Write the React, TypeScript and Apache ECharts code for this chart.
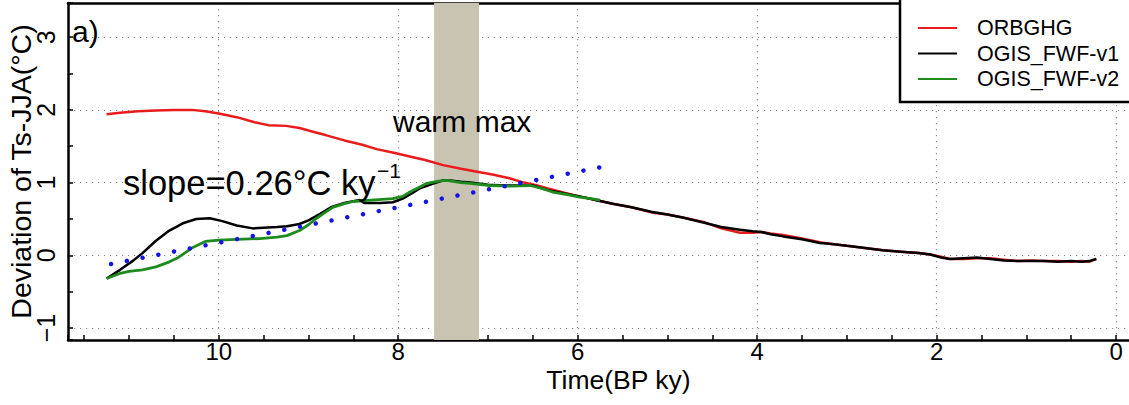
import React, { useEffect, useRef } from "react";
import * as echarts from "echarts";

const FONT = "'Liberation Sans', Arial, Helvetica, sans-serif";

// Time (ky BP), value (°C)
const orbghg: [number, number][] = [
  [11.25, 1.94], [11.1, 1.96], [10.9, 1.98], [10.7, 1.99], [10.5, 2.0], [10.3, 2.0],
  [10.15, 1.98], [10.0, 1.95], [9.8, 1.9], [9.6, 1.83], [9.45, 1.79], [9.25, 1.78],
  [9.1, 1.75], [8.95, 1.7], [8.8, 1.65], [8.6, 1.58], [8.4, 1.52], [8.24, 1.46],
  [8.05, 1.41], [7.87, 1.36], [7.7, 1.31], [7.5, 1.24], [7.3, 1.19], [7.12, 1.15],
  [6.95, 1.11], [6.76, 1.06], [6.6, 1.0], [6.45, 0.96], [6.3, 0.91], [6.15, 0.86],
  [5.98, 0.81], [5.8, 0.76], [5.61, 0.71], [5.4, 0.66], [5.18, 0.59], [5.0, 0.56],
  [4.83, 0.52], [4.6, 0.46], [4.4, 0.37], [4.19, 0.31], [4.05, 0.31], [3.95, 0.32],
  [3.85, 0.3], [3.71, 0.28], [3.5, 0.23], [3.3, 0.18], [3.19, 0.16], [3.0, 0.13],
  [2.8, 0.1], [2.6, 0.07], [2.4, 0.05], [2.2, 0.03], [2.07, 0.01], [1.95, -0.02],
  [1.85, -0.05], [1.7, -0.05], [1.55, -0.04], [1.4, -0.04], [1.25, -0.06], [1.1, -0.08],
  [0.95, -0.07], [0.8, -0.08], [0.65, -0.08], [0.5, -0.09], [0.38, -0.08], [0.3, -0.09],
  [0.22, -0.05],
];

const ogisV1: [number, number][] = [
  [11.25, -0.32], [11.1, -0.2], [10.95, -0.07], [10.85, 0.03], [10.7, 0.2], [10.55, 0.34],
  [10.4, 0.44], [10.25, 0.5], [10.1, 0.51], [9.96, 0.47], [9.8, 0.41], [9.62, 0.37],
  [9.5, 0.38], [9.35, 0.39], [9.24, 0.4], [9.1, 0.43], [9.0, 0.48], [8.87, 0.57],
  [8.75, 0.66], [8.6, 0.72], [8.43, 0.76], [8.38, 0.72], [8.2, 0.72], [8.06, 0.73],
  [7.95, 0.78], [7.85, 0.85], [7.76, 0.92], [7.6, 0.99], [7.5, 1.03], [7.42, 1.03],
  [7.3, 1.01], [7.2, 1.0], [7.0, 0.97], [6.8, 0.96], [6.64, 0.96], [6.5, 0.96],
  [6.34, 0.9], [6.15, 0.85], [5.98, 0.81], [5.8, 0.76], [5.61, 0.71], [5.4, 0.66],
  [5.18, 0.6], [5.0, 0.56], [4.83, 0.52], [4.6, 0.45], [4.4, 0.39], [4.19, 0.35],
  [4.05, 0.33], [3.95, 0.32], [3.85, 0.29], [3.71, 0.26], [3.5, 0.22], [3.3, 0.17],
  [3.19, 0.16], [3.0, 0.13], [2.8, 0.1], [2.6, 0.07], [2.4, 0.05], [2.2, 0.03],
  [2.07, 0.01], [1.95, -0.03], [1.85, -0.05], [1.7, -0.04], [1.55, -0.03], [1.4, -0.05],
  [1.25, -0.07], [1.1, -0.08], [0.95, -0.08], [0.8, -0.08], [0.65, -0.09], [0.5, -0.08],
  [0.38, -0.09], [0.3, -0.08], [0.22, -0.05],
];

const ogisV2: [number, number][] = [
  [11.25, -0.32], [11.1, -0.25], [11.0, -0.22], [10.85, -0.2], [10.7, -0.16], [10.55, -0.09],
  [10.45, -0.03], [10.3, 0.1], [10.15, 0.19], [10.0, 0.21], [9.8, 0.22], [9.54, 0.23],
  [9.35, 0.25], [9.24, 0.27], [9.1, 0.34], [9.0, 0.42], [8.91, 0.51], [8.8, 0.6],
  [8.73, 0.66], [8.6, 0.71], [8.5, 0.74], [8.3, 0.76], [8.06, 0.78], [7.95, 0.81],
  [7.87, 0.87], [7.76, 0.94], [7.68, 0.99], [7.55, 1.02], [7.46, 1.03], [7.3, 1.0],
  [7.2, 0.99], [6.98, 0.96], [6.75, 0.95], [6.53, 0.96], [6.4, 0.92], [6.28, 0.87],
  [6.1, 0.83], [5.98, 0.8], [5.85, 0.78], [5.75, 0.76],
];

const slopeTrend: [number, number][] = [[11.2, -0.12], [5.75, 1.21]];
const warmMaxBand: [number, number] = [7.6, 7.1];

const seriesNames = ["ORBGHG", "OGIS_FWF-v1", "OGIS_FWF-v2"];
const seriesColors = ["#e81c1c", "#000000", "#1d8c1d"];

const X_MIN = -0.59;
const X_MAX = 11.68;

const fmtNum = (v: number) => {
  if (Math.abs(v - Math.round(v)) > 1e-6) return "";
  const r = Math.round(v);
  return r < 0 ? "\u2212" + Math.abs(r) : String(r);
};

export default function App() {
  const ref = useRef<HTMLDivElement>(null);
  useEffect(() => {
    if (!ref.current) return;
    const chart = echarts.init(ref.current, null, { renderer: "svg" });
    const tickStyle = { color: "#000", width: 1.5 };
    const frameLine = { show: true, onZero: false, lineStyle: { color: "#000", width: 2.5 } };
    const splitStyle = { color: "#8a8a8a", width: 1.2, type: [1.2, 4.8] as any };
    chart.setOption({
      animation: false,
      backgroundColor: "#fff",
      textStyle: { fontFamily: FONT },
      grid: {
        left: 68, top: 3, right: -40, bottom: 65, show: false,
        containLabel: false, outerBoundsMode: "none",
      },
      legend: {
        data: seriesNames,
        orient: "vertical",
        left: 918,
        top: 17,
        padding: 0,
        itemGap: 3.5,
        icon: "rect",
        itemWidth: 39,
        itemHeight: 2,
        selectedMode: false,
        textStyle: { fontSize: 21.5, color: "#000", fontFamily: FONT, padding: [0, 0, 0, 15] },
        z: 5,
      },
      xAxis: [
        {
          type: "value",
          inverse: true,
          min: X_MIN,
          max: X_MAX,
          splitNumber: 5,
          axisLine: frameLine,
          axisTick: { show: true, inside: true, length: 5, lineStyle: tickStyle },
          minorTick: { show: true, splitNumber: 4, length: 5, lineStyle: tickStyle },
          axisLabel: {
            formatter: fmtNum, fontSize: 24, lineHeight: 20, color: "#000", margin: 1, fontFamily: FONT,
            showMinLabel: false, showMaxLabel: false,
          },
          splitLine: { show: true, showMinLine: false, showMaxLine: false, lineStyle: splitStyle },
          name: "Time(BP ky)",
          nameLocation: "middle",
          nameGap: 28,
          nameMoveOverlap: false,
          nameTextStyle: { fontSize: 26.5, lineHeight: 24, color: "#000", fontFamily: FONT },
        },
        {
          type: "value",
          position: "top",
          inverse: true,
          min: X_MIN,
          max: X_MAX,
          axisLine: frameLine,
          axisTick: { show: false },
          axisLabel: { show: false },
          splitLine: { show: false },
        },
      ],
      yAxis: {
        type: "value",
        min: -1.165,
        max: 3.47,
        splitNumber: 5,
        axisLine: frameLine,
        axisTick: { show: true, inside: true, length: 5, lineStyle: tickStyle },
        minorTick: { show: true, splitNumber: 2, length: 5, lineStyle: tickStyle },
        axisLabel: {
          formatter: fmtNum, fontSize: 25, lineHeight: 20, color: "#000", margin: 12, rotate: 90, fontFamily: FONT,
          showMinLabel: false, showMaxLabel: false,
        },
        splitLine: { show: true, showMinLine: false, showMaxLine: false, lineStyle: splitStyle },
        name: "Deviation of Ts-JJA(°C)",
        nameLocation: "middle",
        nameGap: 34,
        nameMoveOverlap: false,
        nameTextStyle: { fontSize: 28.5, lineHeight: 26, color: "#000", fontFamily: FONT },
      },
      series: [
        {
          name: seriesNames[0], type: "line", data: orbghg, symbol: "none",
          lineStyle: { color: seriesColors[0], width: 2.5 }, itemStyle: { color: seriesColors[0] },
          markArea: {
            silent: true,
            itemStyle: { color: "#c9c3b1" },
            data: [[{ xAxis: warmMaxBand[0] }, { xAxis: warmMaxBand[1] }]],
          },
        },
        {
          name: seriesNames[1], type: "line", data: ogisV1, symbol: "none",
          lineStyle: { color: seriesColors[1], width: 2.5 }, itemStyle: { color: seriesColors[1] },
        },
        {
          name: seriesNames[2], type: "line", data: ogisV2, symbol: "none",
          lineStyle: { color: seriesColors[2], width: 2.8 }, itemStyle: { color: seriesColors[2] },
        },
        {
          name: "slope", type: "line", data: slopeTrend, symbol: "none",
          lineStyle: { color: "#1414e6", width: 4.5, type: [0.001, 16.05], cap: "round" },
          itemStyle: { color: "#1414e6" },
        },
      ],
      graphic: [
        {
          type: "rect", z: 3, silent: true,
          shape: { x: 900, y: -5, width: 250, height: 107 },
          style: { fill: "#fff", stroke: "#000", lineWidth: 2.5 },
        },
        {
          type: "text", z: 10, x: 72, y: 31,
          style: { text: "a)", fontSize: 30, fill: "#000", fontFamily: FONT, align: "left", verticalAlign: "middle" },
        },
        {
          type: "text", z: 10, x: 393, y: 121,
          style: { text: "warm max", fontSize: 30, fill: "#000", fontFamily: FONT, align: "left", verticalAlign: "middle" },
        },
        {
          type: "text", z: 10, x: 123, y: 183,
          style: { text: "slope=0.26°C ky", fontSize: 34.5, fill: "#000", fontFamily: FONT, align: "left", verticalAlign: "middle" },
        },
        {
          type: "text", z: 10, x: 377, y: 170,
          style: { text: "\u22121", fontSize: 21, fill: "#000", fontFamily: FONT, align: "left", verticalAlign: "middle" },
        },
      ],
    });
    return () => chart.dispose();
  }, []);
  return (
    <div
      ref={ref}
      style={{ position: "fixed", left: 0, top: 0, width: 1129, height: 405, background: "#fff" }}
    />
  );
}
